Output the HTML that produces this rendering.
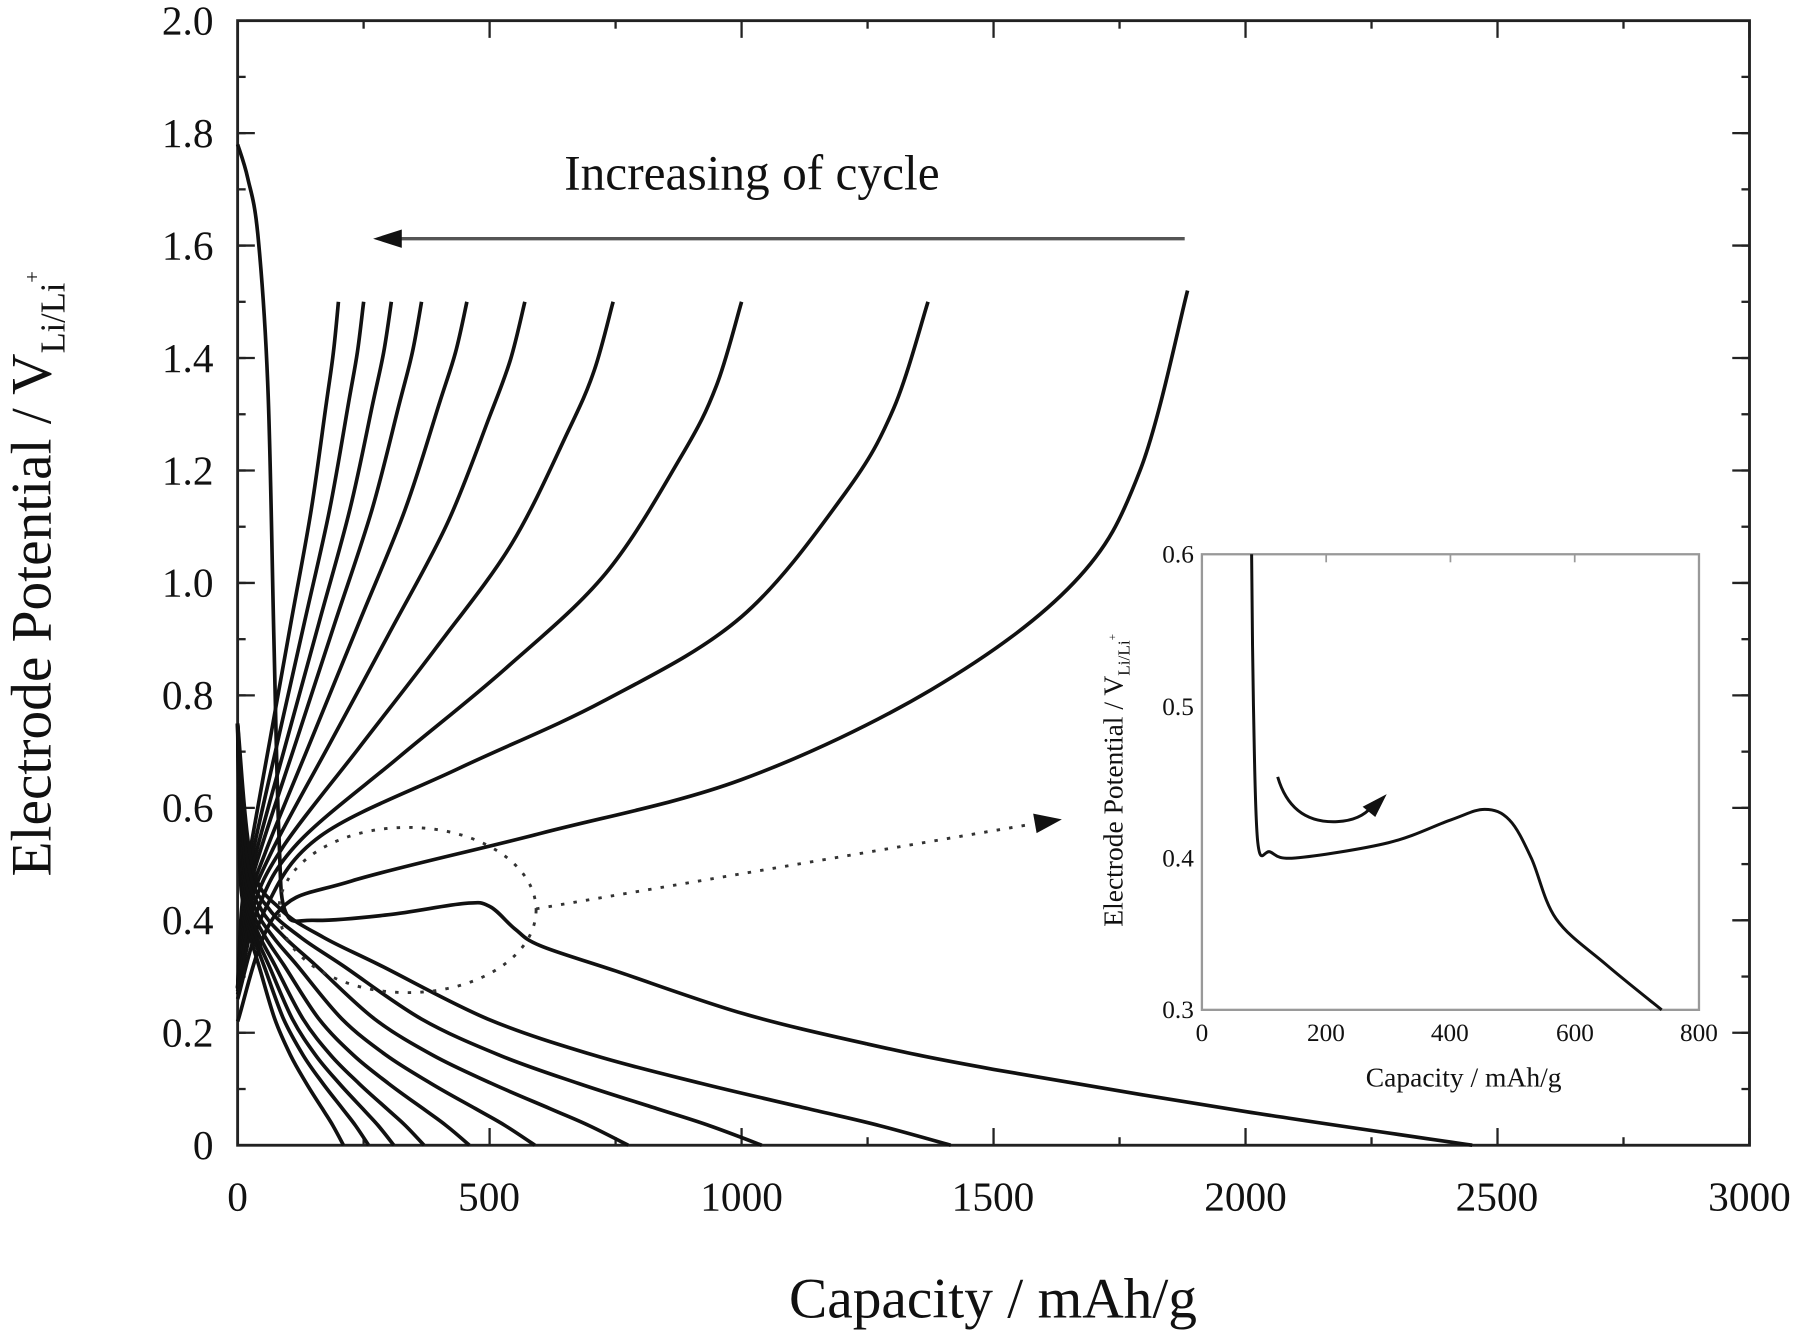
<!DOCTYPE html>
<html><head><meta charset="utf-8"><style>
html,body{margin:0;padding:0;background:#fff;}
svg{display:block;}
text{font-family:"Liberation Serif",serif;fill:#111;}
</style></head><body>
<svg id="s" width="1800" height="1330" viewBox="0 0 1568 1159" preserveAspectRatio="none" xmlns="http://www.w3.org/2000/svg">
<rect x="0" y="0" width="1568" height="1159" fill="#fff"/>
<g id="ticks" stroke="#222" stroke-width="2"></g>
<rect x="207" y="18" width="1317" height="980" fill="none" stroke="#222" stroke-width="2.5"/>
<g id="curves" fill="none" stroke="#111" stroke-width="3.2" stroke-linejoin="round"></g>
<g font-size="36" text-anchor="end">
<text x="186" y="1010">0</text>
<text x="186" y="912">0.2</text>
<text x="186" y="814">0.4</text>
<text x="186" y="716">0.6</text>
<text x="186" y="618">0.8</text>
<text x="186" y="520">1.0</text>
<text x="186" y="422">1.2</text>
<text x="186" y="324">1.4</text>
<text x="186" y="226">1.6</text>
<text x="186" y="128">1.8</text>
<text x="186" y="30">2.0</text>
</g>
<g font-size="36" text-anchor="middle">
<text x="207" y="1055">0</text>
<text x="426" y="1055">500</text>
<text x="646" y="1055">1000</text>
<text x="865" y="1055">1500</text>
<text x="1085" y="1055">2000</text>
<text x="1304" y="1055">2500</text>
<text x="1524" y="1055">3000</text>
</g>
<text x="865" y="1148" font-size="50" text-anchor="middle">Capacity / mAh/g</text>
<text transform="translate(44,500) rotate(-90)" font-size="50" text-anchor="middle">Electrode Potential / V<tspan font-size="30" dy="12">Li/Li</tspan><tspan font-size="18" dy="-22">+</tspan></text>
<text x="655" y="165" font-size="43" text-anchor="middle">Increasing of cycle</text>
<line x1="1032" y1="208" x2="345" y2="208" stroke="#555" stroke-width="3"/>
<polygon points="325,208 350,200 350,216" fill="#111"/>
<ellipse cx="355" cy="793" rx="112" ry="72" fill="none" stroke="#333" stroke-width="2.5" stroke-dasharray="3,8"/>
<line x1="467" y1="792" x2="900" y2="718" stroke="#333" stroke-width="2.5" stroke-dasharray="3,8"/>
<polygon points="925,714 900,709 903,726" fill="#111"/>
<rect x="1047" y="483" width="433" height="397" fill="#fff" stroke="#999" stroke-width="2"/>
<g id="iticks" stroke="#999" stroke-width="1.5"></g>
<g font-size="22" text-anchor="end" fill="#333">
<text x="1040" y="490">0.6</text>
<text x="1040" y="623">0.5</text>
<text x="1040" y="755">0.4</text>
<text x="1040" y="887">0.3</text>
</g>
<g font-size="22" text-anchor="middle">
<text x="1047" y="907">0</text>
<text x="1155" y="907">200</text>
<text x="1263" y="907">400</text>
<text x="1372" y="907">600</text>
<text x="1480" y="907">800</text>
</g>
<text x="1275" y="947" font-size="24" text-anchor="middle">Capacity / mAh/g</text>
<text transform="translate(978,680) rotate(-90)" font-size="24" text-anchor="middle">Electrode Potential / V<tspan font-size="15" dy="6">Li/Li</tspan><tspan font-size="10" dy="-12">+</tspan></text>
<g id="inset" fill="none" stroke="#111" stroke-width="2.6"></g>
<path d="M1113,677 Q1125,718 1165,716 Q1185,715 1195,703" fill="none" stroke="#111" stroke-width="2.6"/>
<polygon points="1208,692 1187,703 1198,712" fill="#111"/>
</svg>
<script>
const X=v=>207+v*1317/3000, Y=v=>998-v*490;
function cr(pts){let d="M"+pts[0][0].toFixed(1)+","+pts[0][1].toFixed(1);
for(let i=0;i<pts.length-1;i++){const p0=pts[Math.max(0,i-1)],p1=pts[i],p2=pts[i+1],p3=pts[Math.min(pts.length-1,i+2)];
const c1=[p1[0]+(p2[0]-p0[0])/6,p1[1]+(p2[1]-p0[1])/6],c2=[p2[0]-(p3[0]-p1[0])/6,p2[1]-(p3[1]-p1[1])/6];
d+=" C"+c1.map(n=>n.toFixed(1))+" "+c2.map(n=>n.toFixed(1))+" "+p2.map(n=>n.toFixed(1));}return d;}
const g=document.getElementById("curves");
function add(par,pts){const p=document.createElementNS("http://www.w3.org/2000/svg","path");p.setAttribute("d",cr(pts));par.appendChild(p);}
const U=[0,.04,.12,.32,.53,.73,.88,.95,1];
const S=[.28,.42,.52,.72,.93,1.13,1.32,1.41,1.5];
const M=[.26,.42,.55,.67,.79,.94,1.16,1.31,1.5];
const B=[.22,.41,.47,.555,.65,.81,1.0,1.2,1.52];
[200,250,305,365,455,570,745,1000,1370,1885].forEach(C=>{
 const pts=U.map((u,k)=>{let v;
  if(C<=455)v=S[k];
  else if(C<=1370){const w=(C-455)/(1370-455);v=(1-w)*S[k]+w*M[k];}
  else{const w=(C-1370)/(1885-1370);v=(1-w)*M[k]+w*B[k];}
  return [X(u*C),Y(v)];});
 add(g,pts);});
const du=[0,.02,.06,.12,.2,.35,.5,.65,.8,.9,1],dv=[.75,.5,.42,.37,.32,.225,.16,.11,.065,.035,0];
[210,260,310,370,460,590,775,1040,1415].forEach(C=>{add(g,du.map((u,k)=>[X(u*C),Y(dv[k])]));});
add(g,[[0,1.78],[20,1.72],[40,1.62],[60,1.35],[72,0.9],[82,0.55],[95,0.415],[150,0.40],[300,0.41],[450,0.43],[500,0.425],[550,0.385],[600,0.355],[750,0.31],[1000,0.235],[1250,0.18],[1500,0.135],[2000,0.06],[2450,0]].map(p=>[X(p[0]),Y(p[1])]));
const t=document.getElementById("ticks");
function ln(par,x1,y1,x2,y2){const l=document.createElementNS("http://www.w3.org/2000/svg","line");l.setAttribute("x1",x1);l.setAttribute("y1",y1);l.setAttribute("x2",x2);l.setAttribute("y2",y2);par.appendChild(l);}
for(let v=0;v<=2.001;v+=0.2){ln(t,207,Y(v),222,Y(v));ln(t,1509,Y(v),1524,Y(v));}
for(let v=0;v<=2.001;v+=0.1){ln(t,207,Y(v),214,Y(v));ln(t,1517,Y(v),1524,Y(v));}
for(let c=0;c<=3000;c+=500){ln(t,X(c),998,X(c),983);ln(t,X(c),18,X(c),33);}
for(let c=250;c<3000;c+=500){ln(t,X(c),998,X(c),991);ln(t,X(c),18,X(c),25);}
const IX=v=>1047+v*433/800, IY=v=>880-(v-0.3)*397/0.3;
const it=document.getElementById("iticks");
for(let c=0;c<=800;c+=200){ln(it,IX(c),483,IX(c),490);}
add(document.getElementById("inset"),[[80,0.6],[83,0.5],[90,0.41],[110,0.404],[150,0.40],[300,0.41],[400,0.425],[455,0.432],[495,0.425],[530,0.40],[570,0.36],[650,0.33],[740,0.30]].map(p=>[IX(p[0]),IY(p[1])]));
</script>
</body></html>
